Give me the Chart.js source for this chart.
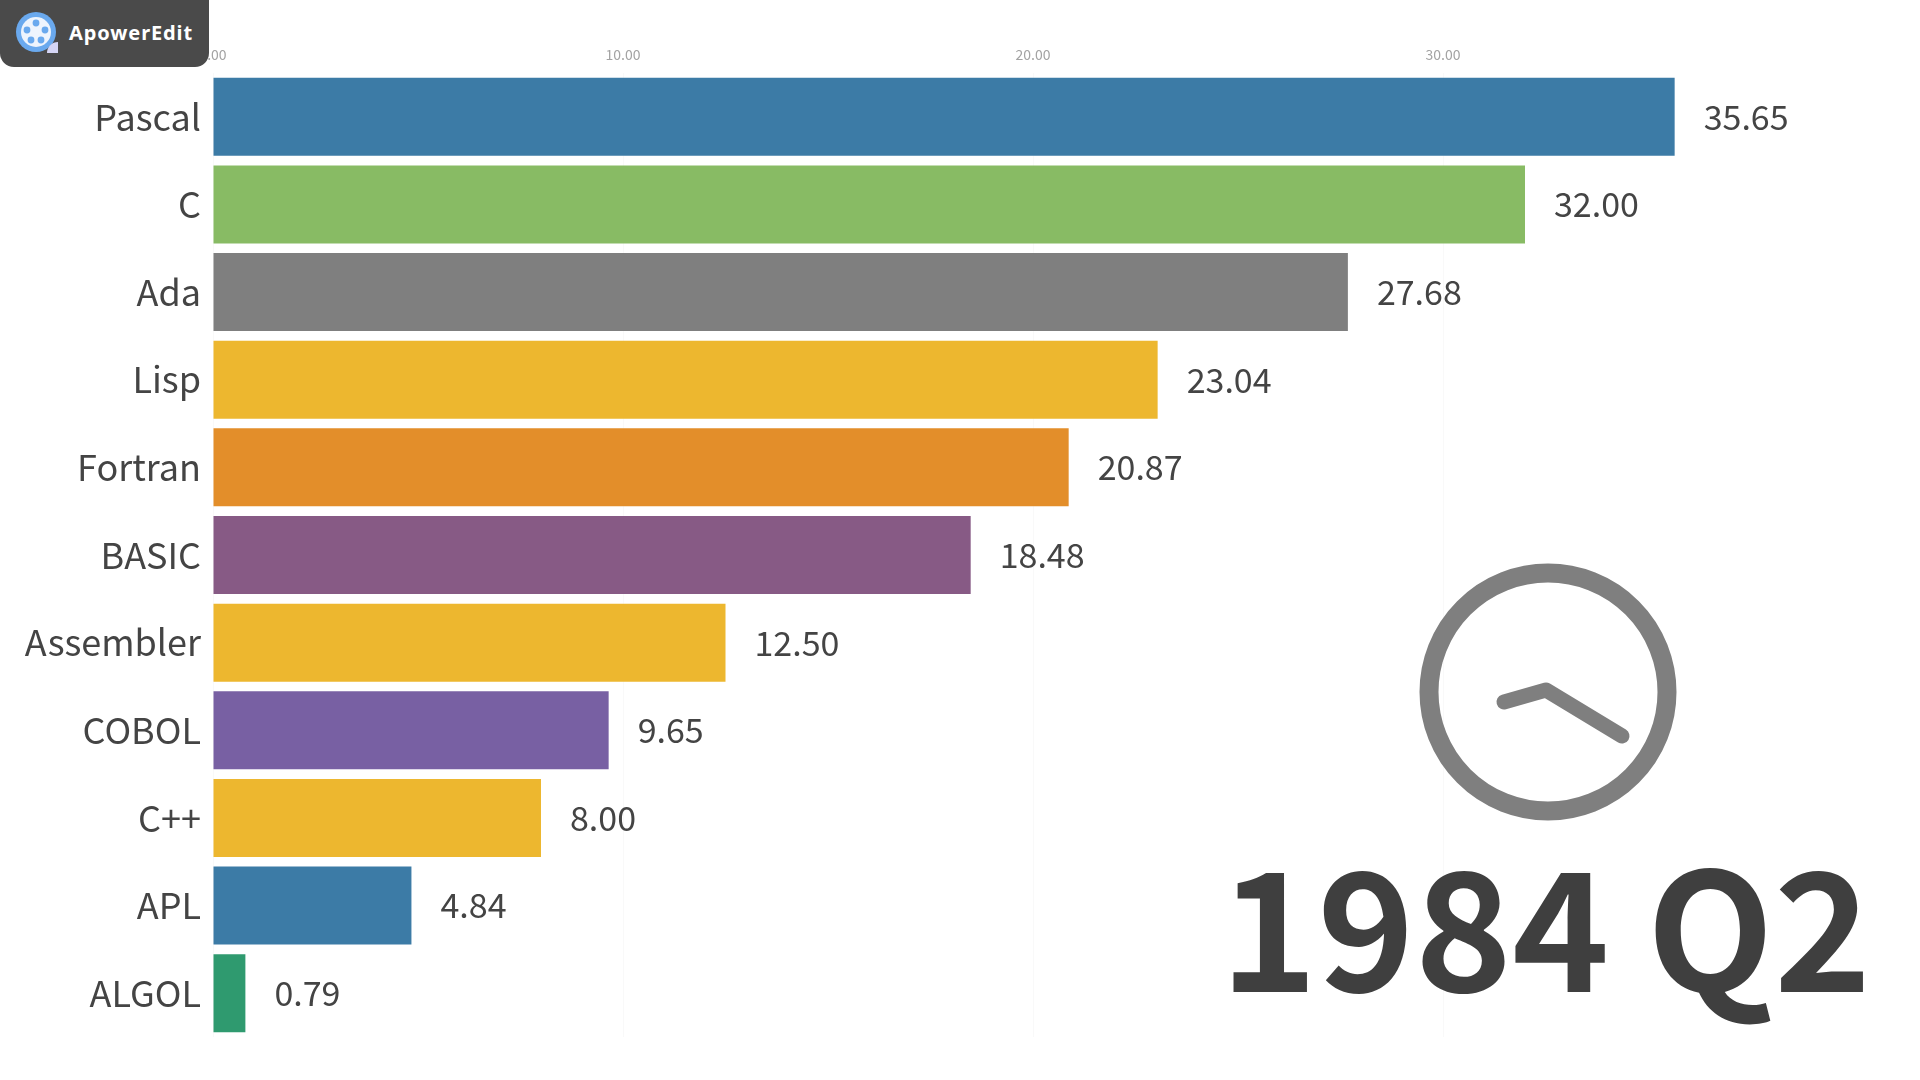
<!DOCTYPE html>
<html>
<head>
<meta charset="utf-8">
<style>
html,body{margin:0;padding:0;width:1920px;height:1080px;background:#fff;overflow:hidden;font-family:"Noto Sans CJK SC","Noto Sans",sans-serif}
#wrap{position:relative;width:1920px;height:1080px}
canvas{position:absolute;left:0;top:0}
#badge{position:absolute;left:0;top:0;width:209px;height:67px;background:#4a4a4a;border-radius:0 0 14px 14px}
#badge svg{position:absolute;left:16px;top:12px}
#badge span{position:absolute;left:69px;top:18px;font:700 20px/30px "Noto Sans",sans-serif;letter-spacing:.9px;color:#fff}
#period{position:absolute;left:1220px;top:821px;font:700 165px/200px "Noto Sans CJK SC",sans-serif;color:#3f3f3f;white-space:nowrap}
#clock{position:absolute;left:1400px;top:544px}
</style>
</head>
<body>
<div id="wrap">
<canvas id="c" width="1920" height="1080"></canvas>
<svg id="clock" width="300" height="300" viewBox="1400 544 300 300">
<circle cx="1548" cy="692" r="119" fill="none" stroke="#7f7f7f" stroke-width="19"/>
<polyline points="1504,702 1546,690 1622,736" fill="none" stroke="#7f7f7f" stroke-width="15" stroke-linejoin="round" stroke-linecap="round"/>
</svg>
<div id="period">1984 Q2</div>
<div id="badge">
<svg width="42" height="41" viewBox="0 0 42 41">
<ellipse cx="20" cy="20" rx="20" ry="20" fill="#6aa9ee"/>
<ellipse cx="20" cy="20" rx="15" ry="15" fill="#eef4fd"/>
<circle cx="20" cy="11" r="3.4" fill="#6aa9ee"/>
<circle cx="11" cy="18" r="3.4" fill="#6aa9ee"/>
<circle cx="29" cy="18" r="3.4" fill="#6aa9ee"/>
<circle cx="15" cy="28" r="3.4" fill="#6aa9ee"/>
<circle cx="25" cy="28" r="3.4" fill="#6aa9ee"/>
<path d="M31 41 A11 11 0 0 1 42 30 L42 41 Z" fill="#d5d5f5"/>
</svg>
<span>ApowerEdit</span>
</div>
</div>
<script src="https://cdn.jsdelivr.net/npm/chart.js@4"></script>
<script>
const languages = ["Pascal","C","Ada","Lisp","Fortran","BASIC","Assembler","COBOL","C++","APL","ALGOL"];
const shares = [35.65,32.00,27.68,23.04,20.87,18.48,12.50,9.65,8.00,4.84,0.79];
const barColors = ["#3c7ba6","#88bb64","#7f7f7f","#edb72f","#e38e2a","#875a85","#edb72f","#7860a3","#edb72f","#3c7ba6","#2f9a6f"];
const tickValues = [0,10,20,30];

const valueLabels = {
  id:"valueLabels",
  afterDatasetsDraw(chart){
    const ctx = chart.ctx, meta = chart.getDatasetMeta(0);
    ctx.save();
    ctx.font = '34px "Noto Sans CJK SC"';
    ctx.fillStyle = "#444";
    ctx.textAlign = "left";
    ctx.textBaseline = "middle";
    meta.data.forEach((bar,i)=>ctx.fillText(shares[i].toFixed(2), bar.x+29, bar.y));
    ctx.restore();
  }
};

Chart.defaults.font.family = '"Noto Sans CJK SC"';
new Chart(document.getElementById("c"),{
  type:"bar",
  data:{labels:languages,datasets:[{data:shares,backgroundColor:barColors,borderWidth:0,barPercentage:0.89,categoryPercentage:1}]},
  options:{
    indexAxis:"y",responsive:false,animation:false,
    layout:{padding:{left:0,right:108,top:0,bottom:43}},
    plugins:{legend:{display:false},tooltip:{enabled:false}},
    scales:{
      x:{position:"top",min:0,max:39,
        afterBuildTicks(s){s.ticks=tickValues.map(v=>({value:v}));},
        afterFit(s){s.height=73;},
        grid:{color:"rgba(0,0,0,0.025)",drawTicks:false,drawOnChartArea:true},border:{display:false},
        ticks:{padding:10,maxRotation:0,autoSkip:false,font:{size:14},color:"#a3a3a3",callback:v=>Number(v).toFixed(2)}},
      y:{afterFit(s){s.width=213;},
        grid:{display:false},border:{display:false},
        ticks:{padding:4,autoSkip:false,font:{size:36},color:"#444"}}
    }
  },
  plugins:[valueLabels]
});
</script>
</body>
</html>
